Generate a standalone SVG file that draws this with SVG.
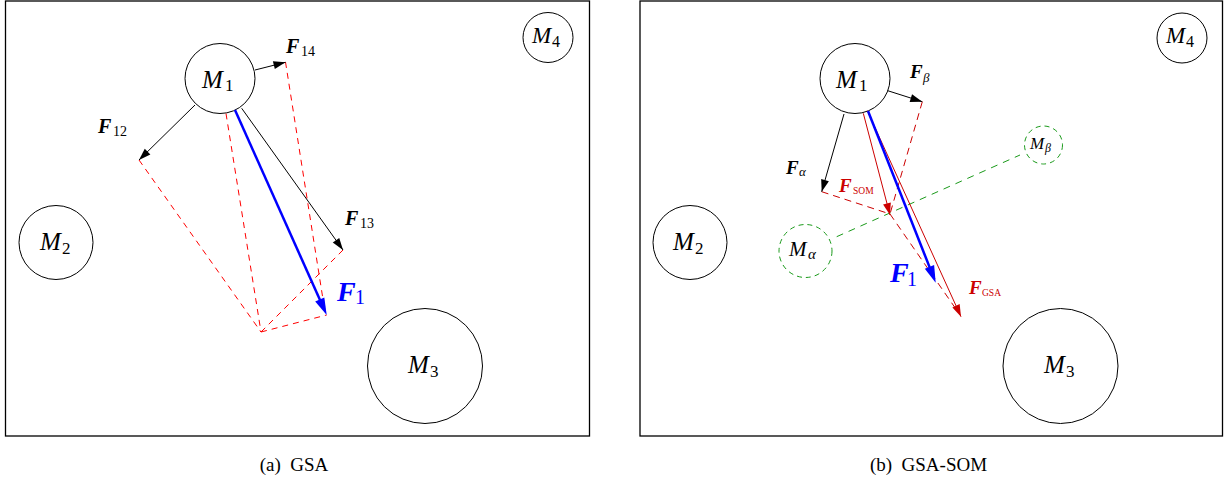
<svg xmlns="http://www.w3.org/2000/svg" width="1228" height="481" viewBox="0 0 1228 481" font-family="'Liberation Serif', 'Times New Roman', 'DejaVu Serif', serif">
<style>
text{fill:#000}
.frame{fill:none;stroke:#000;stroke-width:1.3}
.node{fill:none;stroke:#000;stroke-width:1}
.gnode{fill:none;stroke:#1a9a1a;stroke-width:1;stroke-dasharray:5,4}
.mi{font-style:italic}
.fb{font-style:italic;font-weight:bold}
.arr{stroke:#000;stroke-width:1;fill:none;marker-end:url(#ahK)}
.rarr{stroke:#cc0000;stroke-width:1;fill:none;marker-end:url(#ahR)}
.barr{stroke:#0000ff;stroke-width:2.5;fill:none;marker-end:url(#ahB)}
.dl{stroke:#ff0000;stroke-width:1;stroke-dasharray:6,5;fill:none}
.dr{stroke:#cc0000;stroke-width:1;stroke-dasharray:7,5;fill:none}
.dg{stroke:#1a9a1a;stroke-width:1;stroke-dasharray:7,6;fill:none}
.red{fill:#cc0000}
.blue{fill:#0000ff}
.cap{font-size:19px}
</style>
<defs>
<marker id="ahK" markerUnits="userSpaceOnUse" markerWidth="12" markerHeight="8" refX="12" refY="4" orient="auto" overflow="visible"><path d="M0,0 L12,4 L0,8 z" fill="#000"/></marker>
<marker id="ahR" markerUnits="userSpaceOnUse" markerWidth="12" markerHeight="8" refX="12" refY="4" orient="auto" overflow="visible"><path d="M0,0 L12,4 L0,8 z" fill="#cc0000"/></marker>
<marker id="ahB" markerUnits="userSpaceOnUse" markerWidth="17" markerHeight="10" refX="11" refY="5" orient="auto" overflow="visible"><path d="M0,0 L17,5 L0,10 z" fill="#0000ff"/></marker>
</defs>

<g id="panel-a">
<rect class="frame" x="5.5" y="1" width="584" height="435"/>
<g id="a-M1"><circle class="node" cx="220" cy="78.5" r="35"/><text y="88" font-size="25"><tspan class="mi" x="202">M</tspan><tspan x="225" y="91" font-size="17">1</tspan></text></g>
<g id="a-M2"><circle class="node" cx="56" cy="242.5" r="37"/><text y="250" font-size="25"><tspan class="mi" x="40">M</tspan><tspan x="62" y="254" font-size="17">2</tspan></text></g>
<g id="a-M3"><circle class="node" cx="425" cy="366" r="57.5"/><text y="373" font-size="25"><tspan class="mi" x="408">M</tspan><tspan x="430" y="377" font-size="17">3</tspan></text></g>
<g id="a-M4"><circle class="node" cx="548" cy="37.5" r="25"/><text y="43" font-size="23"><tspan class="mi" x="532">M</tspan><tspan x="552" y="47" font-size="16">4</tspan></text></g>
</g>

<g id="panel-b">
<rect class="frame" x="640" y="1" width="582.5" height="435"/>
<g id="b-M1"><circle class="node" cx="855" cy="78.5" r="35"/><text y="87.5" font-size="25"><tspan class="mi" x="836">M</tspan><tspan x="859" y="90.5" font-size="17">1</tspan></text></g>
<g id="b-M2"><circle class="node" cx="690" cy="242.5" r="37"/><text y="250" font-size="25"><tspan class="mi" x="673">M</tspan><tspan x="695" y="254" font-size="17">2</tspan></text></g>
<g id="b-M3"><circle class="node" cx="1060.5" cy="366" r="57.5"/><text y="373" font-size="25"><tspan class="mi" x="1044">M</tspan><tspan x="1066" y="377" font-size="17">3</tspan></text></g>
<g id="b-M4"><circle class="node" cx="1182" cy="38" r="25"/><text y="43" font-size="23"><tspan class="mi" x="1166">M</tspan><tspan x="1186" y="47" font-size="16">4</tspan></text></g>
<g id="b-Malpha"><circle class="gnode" cx="805.5" cy="251" r="26.5"/><text y="256" font-size="21"><tspan class="mi" x="789">M</tspan><tspan class="mi" x="808" y="258.5" font-size="15">α</tspan></text></g>
<g id="b-Mbeta"><circle class="gnode" cx="1043.5" cy="145" r="19"/><text y="148.5" font-size="17"><tspan class="mi" x="1030">M</tspan><tspan class="mi" x="1045" y="151.5" font-size="12">β</tspan></text></g>
</g>

<g id="connectors">
<!-- panel a -->
<line class="dl" x1="139" y1="160" x2="261" y2="332"/>
<line class="dl" x1="343" y1="250" x2="261" y2="332"/>
<line class="dl" x1="226" y1="113.5" x2="261" y2="332"/>
<line class="dl" x1="261" y1="332" x2="326.7" y2="315"/>
<line class="dl" x1="285.5" y1="62" x2="325" y2="312"/>
<line class="arr" x1="255" y1="70" x2="285.5" y2="62.3"/>
<line class="arr" x1="195" y1="105" x2="139" y2="160"/>
<line class="arr" x1="241.7" y1="108.3" x2="343" y2="250"/>
<line class="barr" x1="235" y1="110" x2="324.25" y2="309.5"/>
<text y="53" font-size="20"><tspan class="fb" x="286">F</tspan><tspan x="301" y="55.5" font-size="14">14</tspan></text>
<text y="133" font-size="20"><tspan class="fb" x="98">F</tspan><tspan x="113" y="136" font-size="14">12</tspan></text>
<text y="225" font-size="20"><tspan class="fb" x="345">F</tspan><tspan x="360" y="228" font-size="14">13</tspan></text>
<text y="301" font-size="28" class="blue"><tspan class="fb" x="337">F</tspan><tspan x="355" y="303.5" font-size="20">1</tspan></text>
<!-- panel b -->
<line class="dg" x1="836.7" y1="236.7" x2="1020" y2="155"/>
<line class="dr" x1="821.7" y1="191.7" x2="890" y2="214"/>
<line class="dr" x1="922.3" y1="101.7" x2="890" y2="214"/>
<line class="dr" x1="890" y1="214" x2="958" y2="312"/>
<line class="arr" x1="844" y1="114" x2="821.7" y2="191.7"/>
<line class="arr" x1="887.7" y1="90.7" x2="922.3" y2="101.7"/>
<line class="rarr" x1="863.3" y1="113.3" x2="890" y2="215"/>
<line class="rarr" x1="867.3" y1="110.7" x2="961" y2="316.7"/>
<line class="barr" x1="868" y1="111" x2="933.5" y2="277.1"/>
<text y="78" font-size="19"><tspan class="fb" x="910">F</tspan><tspan class="mi" x="923" y="82" font-size="13">β</tspan></text>
<text y="173.5" font-size="19"><tspan class="fb" x="786">F</tspan><tspan class="mi" x="799" y="176" font-size="13">α</tspan></text>
<text y="192" font-size="19" class="red"><tspan class="fb" x="839">F</tspan><tspan x="853" y="194" font-size="9.5">SOM</tspan></text>
<text y="282" font-size="28" class="blue"><tspan class="fb" x="890">F</tspan><tspan x="907" y="286" font-size="20">1</tspan></text>
<text y="293.5" font-size="19" class="red"><tspan class="fb" x="969">F</tspan><tspan x="982" y="295.5" font-size="9.5">GSA</tspan></text>
</g>

<g id="captions">
<text class="cap" x="294" y="471" text-anchor="middle">(a)&#160; GSA</text>
<text class="cap" x="928.5" y="471" text-anchor="middle">(b)&#160; GSA-SOM</text>
</g>
</svg>
